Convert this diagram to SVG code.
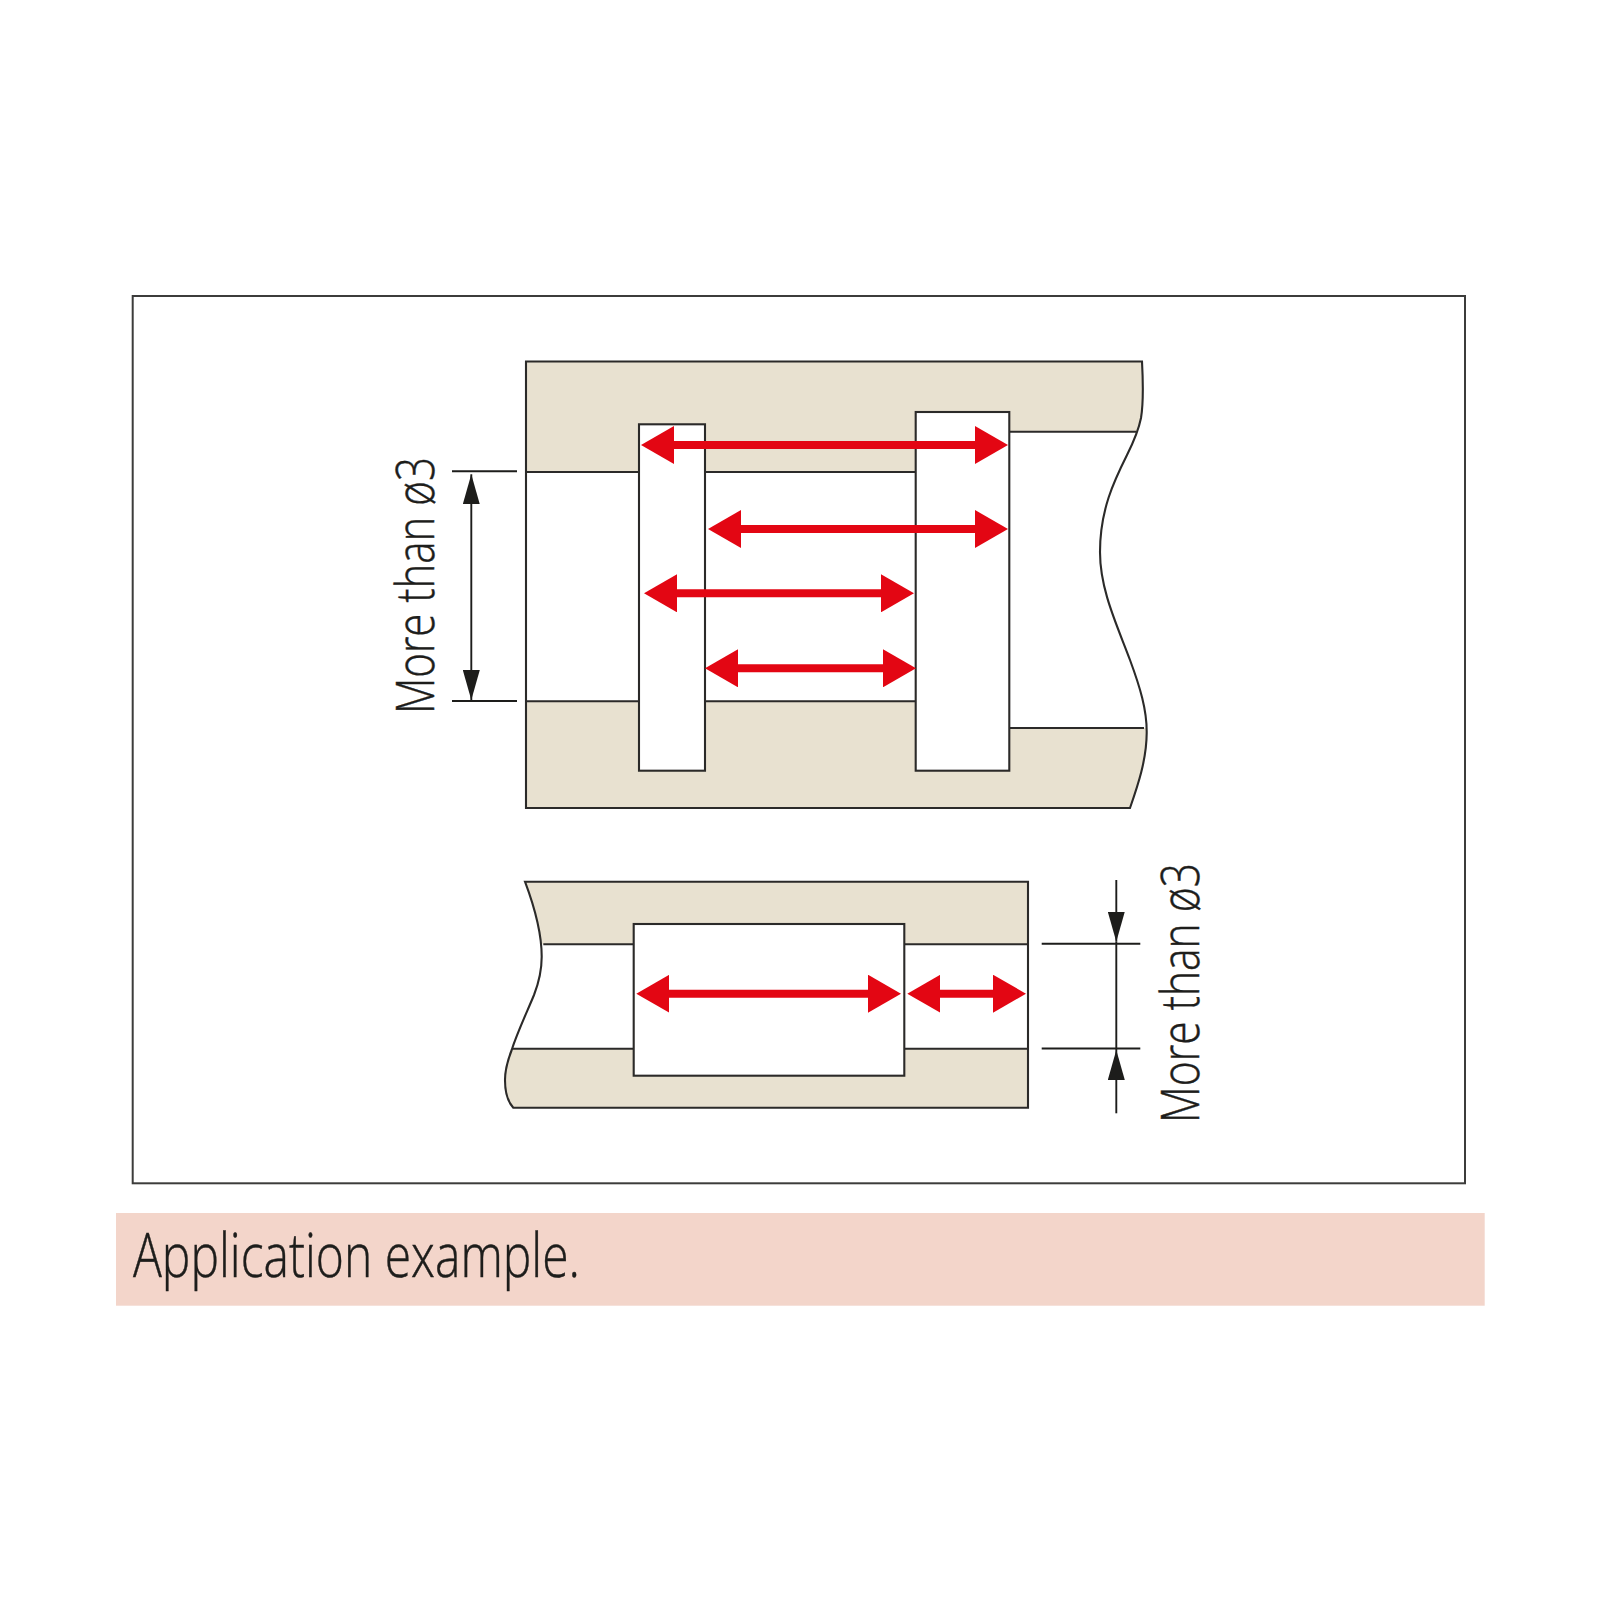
<svg xmlns="http://www.w3.org/2000/svg" width="1600" height="1600" viewBox="0 0 1600 1600">
<style>
.ln{stroke:#2b2a29;stroke-width:2.1;fill:none}
.pin{stroke:#2b2a29;stroke-width:2.1;fill:#fff}
.body{fill:#e8e1d0}
.gap{fill:#fff}
.red{stroke:#e30613;stroke-width:8;fill:none;marker-start:url(#ra);marker-end:url(#ra)}
.dim{stroke:#1d1d1b;stroke-width:1.9;fill:none}
.t{font-family:"Open Sans","Liberation Sans",sans-serif;font-weight:300;fill:#1d1d1b;stroke:#1d1d1b;stroke-width:.45}
</style>
<defs>
<marker id="ra" markerUnits="userSpaceOnUse" viewBox="0 0 33 38" markerWidth="33" markerHeight="38" refX="3" refY="19" orient="auto-start-reverse"><path d="M0 0L33 19L0 38Z" fill="#e30613"/></marker>
<marker id="ka" markerUnits="userSpaceOnUse" viewBox="0 0 30 17" markerWidth="30" markerHeight="17" refX="30" refY="8.5" orient="auto-start-reverse"><path d="M0 0L30 8.5L0 17Z" fill="#1d1d1b"/></marker>
<path id="upper-shape" d="M526 361.500H1142C1143 380 1144 400 1141 418C1139 428 1134 441 1127 455C1114 481 1100 510 1100 552C1100 590 1117 625 1130 660C1140 687 1147 710 1146.700 733C1146.500 760 1138 785 1130 808H526Z"/>
<path id="lower-shape" d="M525 881.700H1028V1107.700H513.300C508 1102 505 1092 505 1080C505 1072 507 1062 511.700 1050C517 1033 527 1012 534 995C539 982 541.700 972 541.700 956.700C541.700 930 533 903 525 881.700Z"/>
<clipPath id="upper-clip"><use href="#upper-shape"/></clipPath>
<clipPath id="lower-clip"><use href="#lower-shape"/></clipPath>
</defs>
<rect width="1600" height="1600" fill="#fff"/>
<rect id="frame" x="132.700" y="296" width="1332.300" height="887.300" fill="#fff" stroke="#3c3c3b" stroke-width="2"/>
<g id="upper-part">
<use href="#upper-shape" class="body"/>
<g clip-path="url(#upper-clip)">
<rect class="gap" x="526" y="472" width="390" height="229.300"/>
<rect class="gap" x="915" y="431.700" width="260" height="296.300"/>
</g>
<use href="#upper-shape" class="ln"/>
<path class="ln" d="M526 472H639M705 472H915.700M526 701.300H639M705 701.300H915.700M1009.300 431.700H1136M1009.300 728H1144"/>
<rect class="pin" x="639" y="424.300" width="66" height="346.400"/>
<rect class="pin" x="915.700" y="412" width="93.600" height="358.700"/>
</g>
<g id="lower-part">
<use href="#lower-shape" class="body"/>
<rect class="gap" x="500" y="944.300" width="528" height="104.400" clip-path="url(#lower-clip)"/>
<use href="#lower-shape" class="ln"/>
<path class="ln" d="M543.300 944.300H1028M512 1048.700H1028"/>
<rect class="pin" x="633.700" y="924" width="270.600" height="151.700"/>
</g>
<g id="connectors">
<line class="red" x1="671" y1="445" x2="978" y2="445"/>
<line class="red" x1="738" y1="529" x2="978" y2="529"/>
<line class="red" x1="674" y1="593.300" x2="884" y2="593.300"/>
<line class="red" x1="735" y1="668.300" x2="886" y2="668.300"/>
<line class="red" x1="666.300" y1="993.700" x2="871" y2="993.700"/>
<line class="red" x1="937.300" y1="993.700" x2="996" y2="993.700"/>
<path class="dim" d="M452 471.300H517M452 701H517M1041.700 943.700H1140.300M1041.700 1048.500H1140.300M1116.300 941.700V1050"/>
<line class="dim" x1="471.300" y1="474.300" x2="471.300" y2="700" marker-start="url(#ka)" marker-end="url(#ka)"/>
<line class="dim" x1="1116.300" y1="880" x2="1116.300" y2="941.700" marker-end="url(#ka)"/>
<line class="dim" x1="1116.300" y1="1113.300" x2="1116.300" y2="1050" marker-end="url(#ka)"/>
</g>
<g id="labels">
<text class="t" transform="translate(434.300 714) rotate(-90)" font-size="53.500" textLength="257" lengthAdjust="spacingAndGlyphs">More than ø3</text>
<text class="t" transform="translate(1199 1123) rotate(-90)" font-size="53.500" textLength="260" lengthAdjust="spacingAndGlyphs">More than ø3</text>
</g>
<g id="caption">
<rect x="116" y="1213" width="1368.700" height="92.700" fill="#f3d5ca"/>
<text class="t" x="133" y="1276.700" font-size="60.500" textLength="447" lengthAdjust="spacingAndGlyphs">Application example.</text>
</g>
</svg>
